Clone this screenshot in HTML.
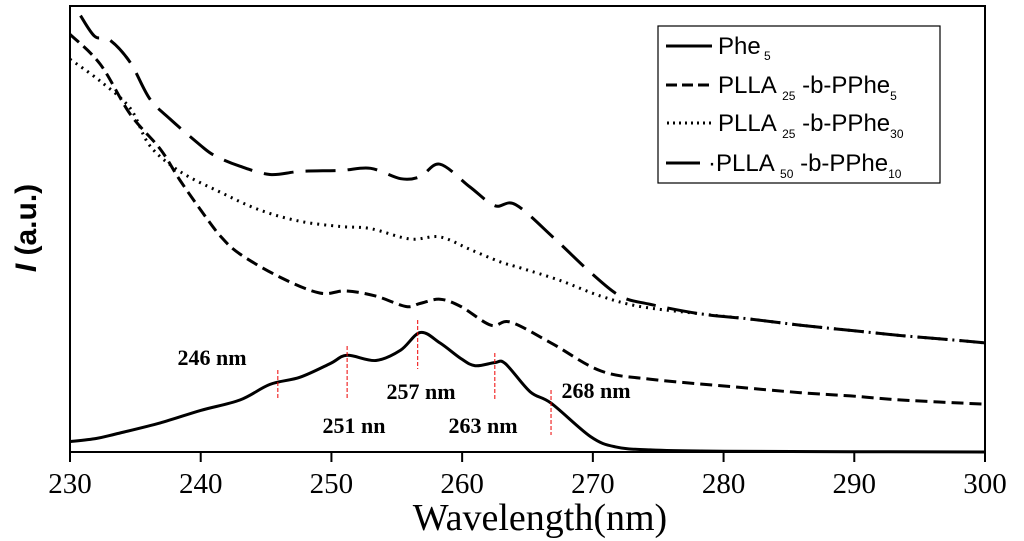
<!DOCTYPE html>
<html><head><meta charset="utf-8"><style>
html,body{margin:0;padding:0;background:#fff;}
svg{display:block;}
</style></head><body>
<svg id="chart" width="1024" height="541" viewBox="0 0 1024 541" xmlns="http://www.w3.org/2000/svg">
<g id="plot"></g>
</svg>
<script>
// x values (nm) and intensities (a.u.)
const phe5X = [230,232,233.5,236.9,240,243,245.3,247.6,249.9,251.2,253.4,255.3,256.8,258.3,259.9,261,262.5,263.3,265.2,266.8,269.8,271.7,274.4,280,300];
const phe5Y = [10.4,13.5,18,29.1,41.6,52,67.6,74.8,88.4,96.7,91.5,101.9,119.5,109.1,93.5,86.3,89.4,88.4,60.3,48.9,15.6,5.2,2.1,0.8,0];
const p25p5X = [230,232.3,234.6,236.9,238.4,240,241.5,243,246.1,249.1,251.1,253.4,255.7,256.8,258.3,259.9,262.2,263.7,266.8,270.6,274.4,280.5,285.9,289.7,293.6,300];
const p25p5Y = [417.7,388,338,303,272,242,216,198,174.6,159,161.1,155.9,145.5,148.6,152.8,145.5,126.8,129.9,109.1,81.1,72.8,65.5,59.3,56.1,52,47.8];
const p25p30X = [230,232.3,234.6,236.1,238.4,241.5,244.5,247.6,250.7,253,256,258.3,260.6,262.9,264.5,267.5,270.6,273.6,278.2,282,285.9,289.7,293.6,297.4,300];
const p25p30Y = [392.8,371,343.9,306.5,280.6,259.8,242.1,230.7,225.5,223.4,213,215.1,202.6,190.2,183.9,171.5,155.9,145.5,138.2,133,126.8,121.6,116.4,112.2,109.1];
const p50p10X = [230.8,231.9,233,234.6,236.1,237.7,240,241.1,243,245.3,247.6,250.7,253,255.3,256.8,258.3,260.6,262.5,264.1,267.1,269.8,272.1,274.4,278.2,282,285.9,289.7,293.6,297.4,300];
const p50p10Y = [436.4,415.6,412.5,389.7,353.3,332.5,306.5,296.2,285.8,277.5,280.6,281.6,283.7,273.3,275.4,287.8,265,246.3,247.3,213,179.8,155.9,147.6,138.2,133,126.8,121.6,116.4,112.2,109.1];
const xTicks = [230,240,250,260,270,280,290,300];
const peakLabels = ["246 nm","251 nn","257 nm","263 nm","268 nm"];
const peakX = [245.9,251.2,256.6,262.5,266.8];

const NS="http://www.w3.org/2000/svg";
const L=70,R=985,T=6,B=452;
const xMin=230,xMax=300,yMax=446;
const sx=v=>L+(v-xMin)/(xMax-xMin)*(R-L);
const sy=v=>B-v/yMax*(B-T);
const svg=document.getElementById('chart');
function mk(tag,attrs,parent){const e=document.createElementNS(NS,tag);for(const k in attrs)e.setAttribute(k,attrs[k]);(parent||svg).appendChild(e);return e;}
function smooth(xs,ys){
  const p=xs.map((x,i)=>[sx(x),sy(ys[i])]);
  let d="M"+p[0][0].toFixed(1)+","+p[0][1].toFixed(1);
  for(let i=0;i<p.length-1;i++){
    const p0=p[i-1]||p[i],p1=p[i],p2=p[i+1],p3=p[i+2]||p2;
    const c1=[p1[0]+(p2[0]-p0[0])/6,p1[1]+(p2[1]-p0[1])/6];
    const c2=[p2[0]-(p3[0]-p1[0])/6,p2[1]-(p3[1]-p1[1])/6];
    d+=" C"+c1.map(v=>v.toFixed(1)).join(",")+" "+c2.map(v=>v.toFixed(1)).join(",")+" "+p2.map(v=>v.toFixed(1)).join(",");
  }
  return d;
}
let frame=mk('rect',{x:L,y:T,width:R-L,height:B-T,fill:'none',stroke:'#000','stroke-width':2});


xTicks.forEach(t=>{
  const ln=mk('line',{x1:sx(t),x2:sx(t),y1:B,y2:B+10,stroke:'#000','stroke-width':2});
  
  
  const tx=mk('text',{x:sx(t),y:493,'text-anchor':'middle','font-family':'Liberation Serif, serif','font-size':29});
  tx.textContent=t;
  
  
});
let xt=mk('text',{x:540,y:530,'text-anchor':'middle','font-family':'Liberation Serif, serif','font-size':38});
xt.textContent='Wavelength(nm)';


let yt=mk('text',{transform:'translate(36,228) rotate(-90)','text-anchor':'middle','font-family':'Liberation Sans, sans-serif','font-size':30,'font-weight':'bold'});
yt.innerHTML='<tspan font-style="italic">I</tspan> (a.u.)';


const series=[
 {x:phe5X,y:phe5Y,dash:'',name:'series-phe5'},
 {x:p25p5X,y:p25p5Y,dash:'12 6',name:'series-plla25-pphe5'},
 {x:p25p30X,y:p25p30Y,dash:'2 5',name:'series-plla25-pphe30'},
 {x:p50p10X,y:p50p10Y,dash:'30 12',name:'series-plla50-pphe10'}
];
series.forEach(s=>{
  const a={d:smooth(s.x,s.y),fill:'none',stroke:'#000','stroke-width':3};
  if(s.dash)a['stroke-dasharray']=s.dash;
  const p=mk('path',a);
  
  
});
const markTop=[370,346,320,353,390],markBot=[398,398,369,400,435];
const labPos=[[212,360],[354,428],[421,394],[483,428],[596,393]];
peakX.forEach((v,i)=>{
  const ln=mk('line',{x1:sx(v),x2:sx(v),y1:markTop[i],y2:markBot[i],stroke:'#e00','stroke-width':1,'stroke-dasharray':'4 2'});
  
  
  const t=mk('text',{x:labPos[i][0],y:labPos[i][1],'text-anchor':'middle','dominant-baseline':'middle','font-family':'Liberation Serif, serif','font-size':22,'font-weight':'bold'});
  t.textContent=peakLabels[i];
  
  
});
</script>
<svg style="position:absolute;left:0;top:0" width="1024" height="541" xmlns="http://www.w3.org/2000/svg">
<rect x="658" y="26" width="282" height="157" fill="#fff" stroke="#000" stroke-width="1.2"/>
<g font-family="Liberation Sans, sans-serif" font-size="24" fill="#000">
<g><line x1="666" y1="46" x2="712" y2="46" stroke="#000" stroke-width="3"/><text x="718" y="54">Phe<tspan font-size="12" dy="6"> 5</tspan></text></g>
<g><line x1="666" y1="85" x2="712" y2="85" stroke="#000" stroke-width="3" stroke-dasharray="11 5"/><text x="718" y="93">PLLA <tspan font-size="12" dy="7">25</tspan><tspan dy="-7"> -b-PPhe</tspan><tspan font-size="12" dy="7">5</tspan></text></g>
<g><line x1="667" y1="123" x2="712" y2="123" stroke="#000" stroke-width="3" stroke-dasharray="2 4"/><text x="718" y="131">PLLA <tspan font-size="12" dy="7">25</tspan><tspan dy="-7"> -b-PPhe</tspan><tspan font-size="12" dy="7">30</tspan></text></g>
<g><line x1="666" y1="163" x2="700" y2="163" stroke="#000" stroke-width="3"/><text x="708" y="171">·PLLA <tspan font-size="12" dy="7">50</tspan><tspan dy="-7"> -b-PPhe</tspan><tspan font-size="12" dy="7">10</tspan></text></g>
</g>
</svg>
</body></html>
